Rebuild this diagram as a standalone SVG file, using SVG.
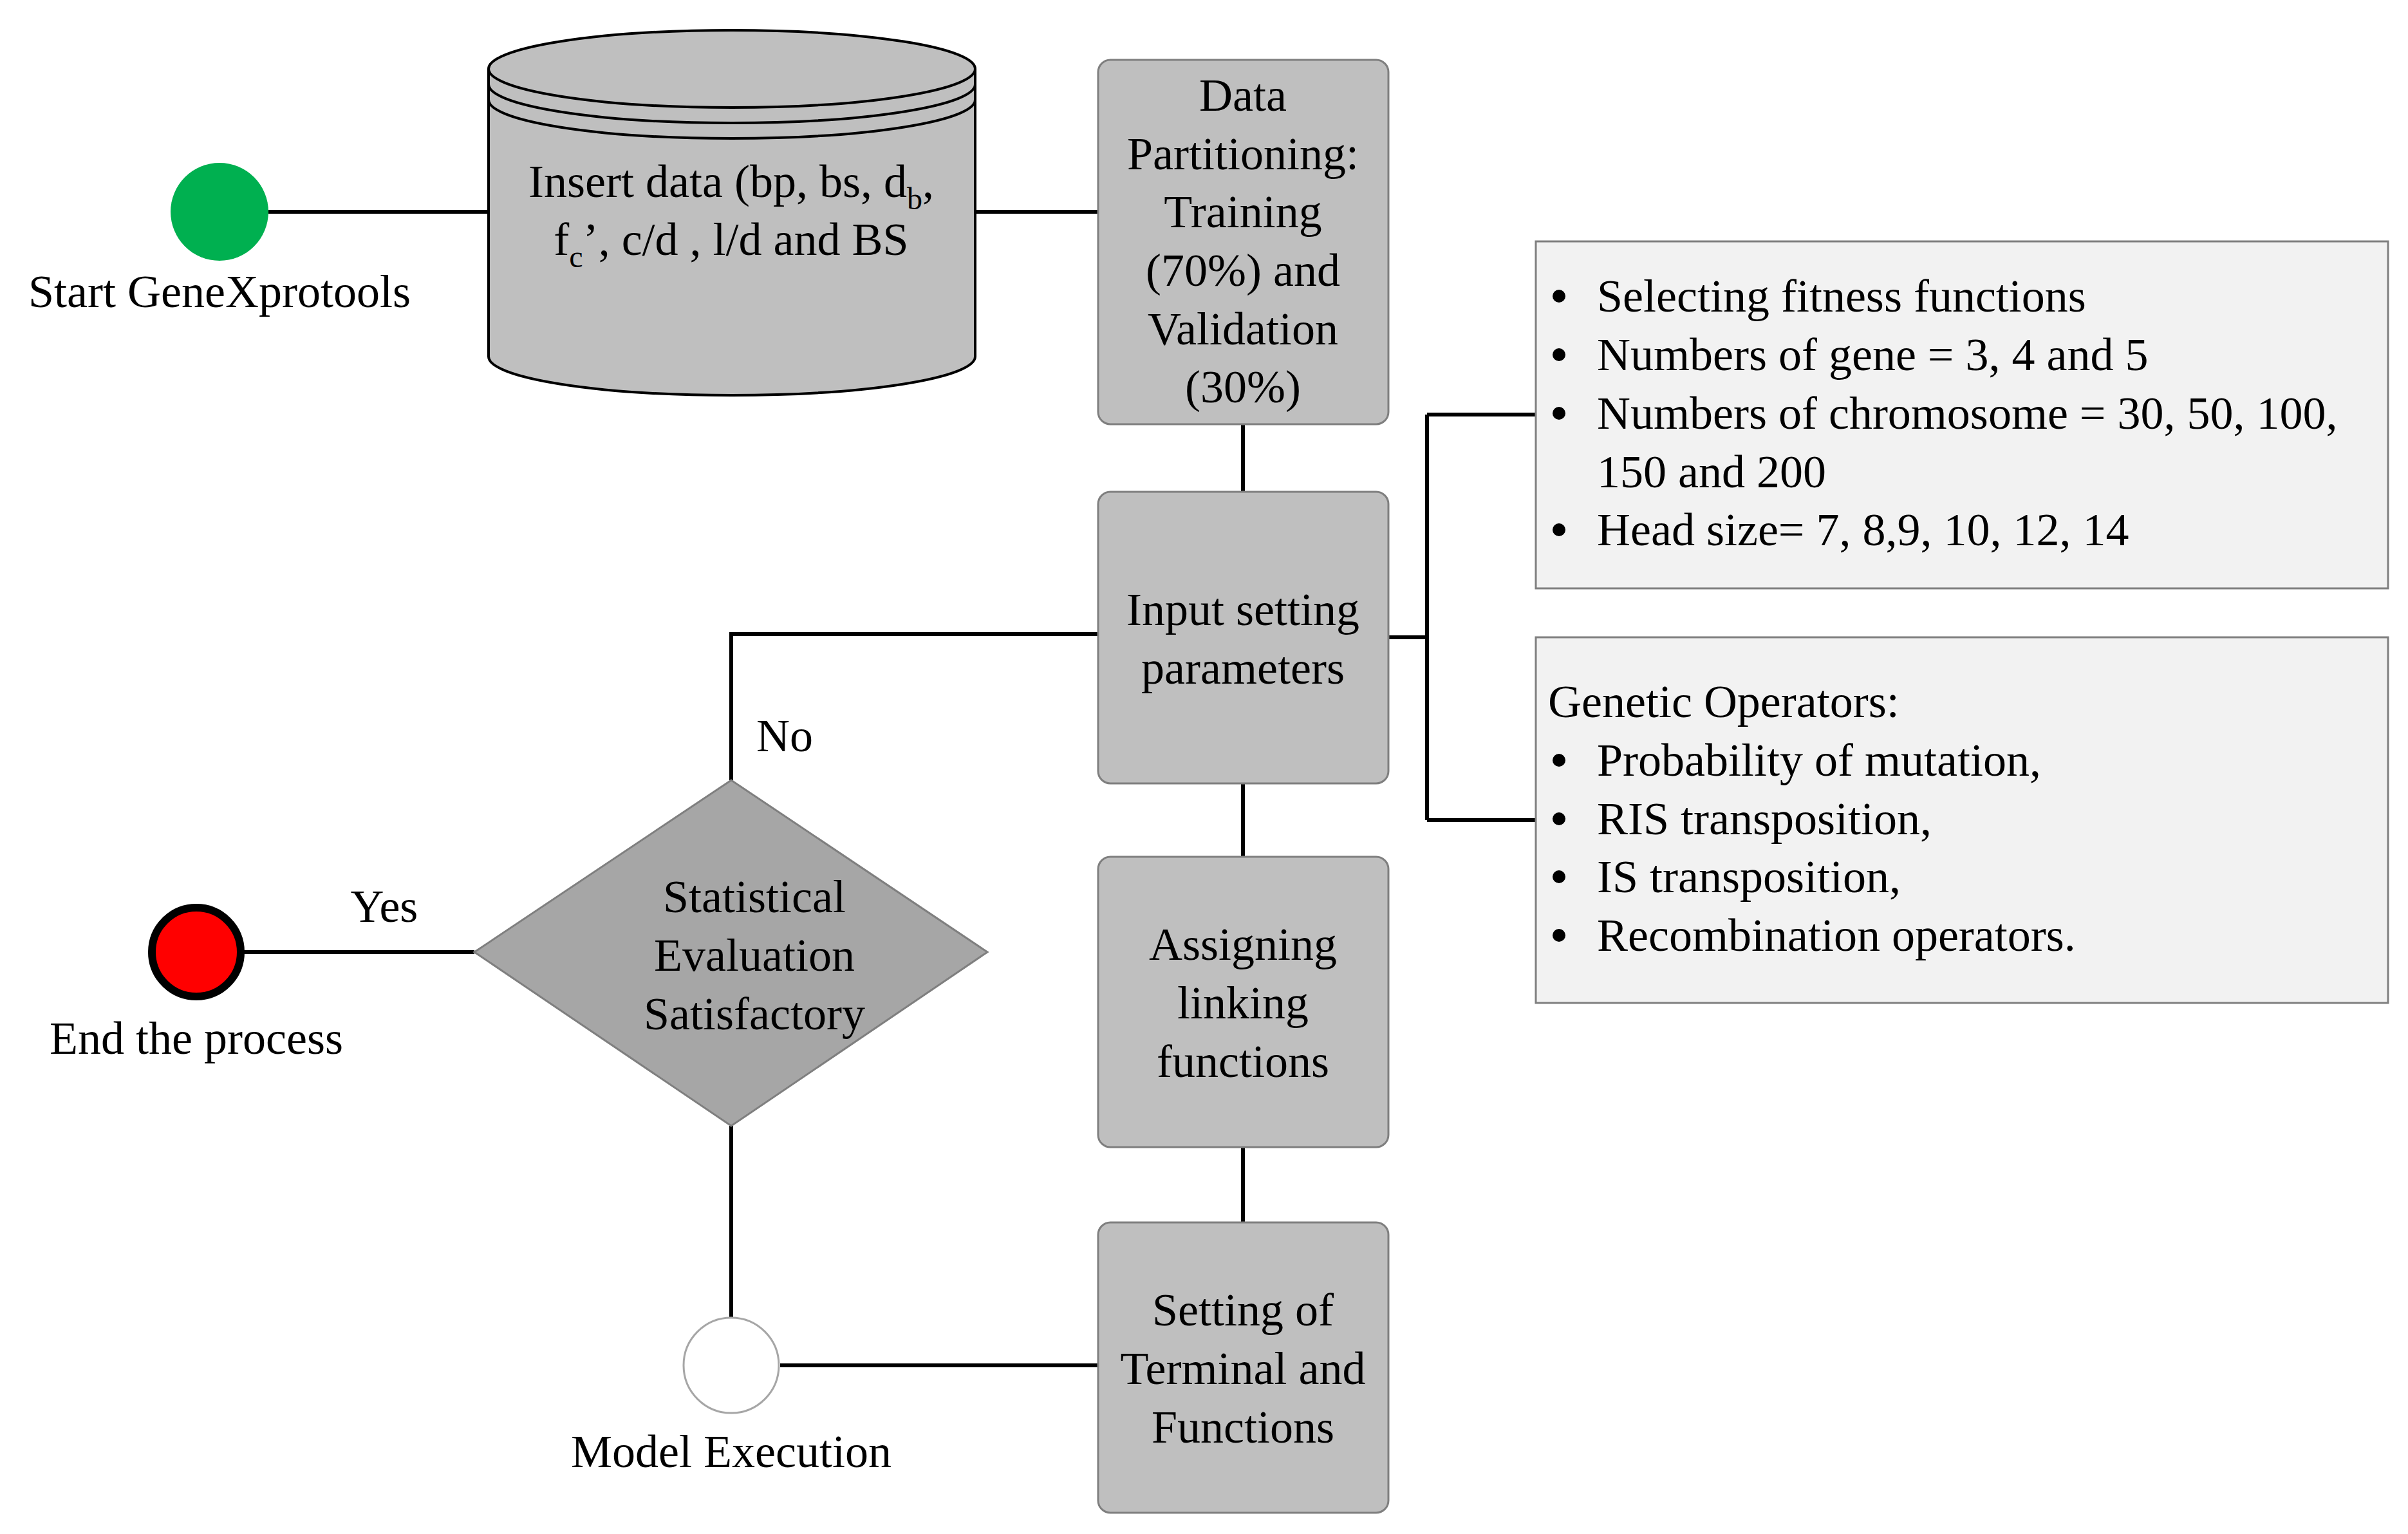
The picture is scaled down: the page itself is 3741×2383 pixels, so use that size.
<svg xmlns="http://www.w3.org/2000/svg" width="3741" height="2383" viewBox="0 0 3741 2383">
<style>
text{font-family:"Liberation Serif","Times New Roman",serif;font-size:72px;fill:#000}
.c{text-anchor:middle;dominant-baseline:central}
.l{dominant-baseline:central}
.box{fill:#bfbfbf;stroke:#7f7f7f;stroke-width:3}
.note{fill:#f2f2f2;stroke:#7f7f7f;stroke-width:3}
.ln{stroke:#000;stroke-width:6;fill:none}
.cyl{fill:#bfbfbf;stroke:#000;stroke-width:4}
</style>
<rect width="3741" height="2383" fill="#fff"/>
<g id="connectors">
<path class="ln" d="M417 329H759M1515 329H1706M1931 659V764M1931 1217V1331M1931 1782V1899M2157 990H2217M2217 644V1274M2217 644H2386M2217 1274H2386M1706 985H1136V1212M379 1479H737M1136 1749V2047M1212 2121H1706"/>
</g>
<g id="start">
<circle cx="341" cy="329" r="76" fill="#00b050"/>
<text class="c" x="341" y="453">Start GeneXprotools</text>
</g>
<g id="data">
<path class="cyl" d="M759 107V554A378 60 0 0 0 1515 554V107"/>
<ellipse class="cyl" cx="1137" cy="107" rx="378" ry="60"/>
<path class="ln" style="stroke-width:4" d="M759 131A378 60 0 0 0 1515 131M759 155A378 60 0 0 0 1515 155"/>
<text class="c" x="1136" y="282">Insert data (bp, bs, d<tspan font-size="48" baseline-shift="sub">b</tspan>,</text>
<text class="c" x="1136" y="372">f<tspan font-size="48" baseline-shift="sub">c</tspan>’, c/d , l/d and BS</text>
</g>
<g id="partition">
<rect class="box" x="1706" y="93" width="451" height="566" rx="19"/>
<text class="c" x="1931" y="148">Data</text>
<text class="c" x="1931" y="239">Partitioning:</text>
<text class="c" x="1931" y="329">Training</text>
<text class="c" x="1931" y="420">(70%) and</text>
<text class="c" x="1931" y="511">Validation</text>
<text class="c" x="1931" y="601">(30%)</text>
</g>
<g id="input">
<rect class="box" x="1706" y="764" width="451" height="453" rx="19"/>
<text class="c" x="1931" y="947">Input setting</text>
<text class="c" x="1931" y="1038">parameters</text>
</g>
<g id="assign">
<rect class="box" x="1706" y="1331" width="451" height="451" rx="19"/>
<text class="c" x="1931" y="1467">Assigning</text>
<text class="c" x="1931" y="1558">linking</text>
<text class="c" x="1931" y="1649">functions</text>
</g>
<g id="terminal">
<rect class="box" x="1706" y="1899" width="451" height="451" rx="19"/>
<text class="c" x="1931" y="2035">Setting of</text>
<text class="c" x="1931" y="2126">Terminal and</text>
<text class="c" x="1931" y="2217">Functions</text>
</g>
<g id="note1">
<rect class="note" x="2386" y="375" width="1324" height="539"/>
<g fill="#000"><circle cx="2422" cy="460" r="10"/><circle cx="2422" cy="551" r="10"/><circle cx="2422" cy="642" r="10"/><circle cx="2422" cy="823" r="10"/></g>
<text class="l" x="2481" y="460">Selecting fitness functions</text>
<text class="l" x="2481" y="551">Numbers of gene = 3, 4 and 5</text>
<text class="l" x="2481" y="642">Numbers of chromosome = 30, 50, 100,</text>
<text class="l" x="2481" y="733">150 and  200</text>
<text class="l" x="2481" y="823">Head size= 7, 8,9, 10, 12, 14</text>
</g>
<g id="note2">
<rect class="note" x="2386" y="990" width="1324" height="568"/>
<g fill="#000"><circle cx="2422" cy="1181" r="10"/><circle cx="2422" cy="1272" r="10"/><circle cx="2422" cy="1362" r="10"/><circle cx="2422" cy="1453" r="10"/></g>
<text class="l" x="2405" y="1090">Genetic Operators:</text>
<text class="l" x="2481" y="1181">Probability of mutation,</text>
<text class="l" x="2481" y="1272">RIS transposition,</text>
<text class="l" x="2481" y="1362">IS transposition,</text>
<text class="l" x="2481" y="1453">Recombination operators.</text>
</g>
<g id="decision">
<polygon points="737,1479 1136,1212 1534,1479 1136,1749" fill="#a6a6a6" stroke="#7f7f7f" stroke-width="3"/>
<text class="c" x="1172" y="1393">Statistical</text>
<text class="c" x="1172" y="1484">Evaluation</text>
<text class="c" x="1172" y="1575">Satisfactory</text>
<text class="c" x="1219" y="1143">No</text>
<text class="c" x="597" y="1408">Yes</text>
</g>
<g id="end">
<circle cx="305" cy="1479" r="69" fill="#ff0000" stroke="#000" stroke-width="12"/>
<text class="c" x="305" y="1613">End the process</text>
</g>
<g id="model">
<circle cx="1136" cy="2121" r="74" fill="#fff" stroke="#a6a6a6" stroke-width="3"/>
<text class="c" x="1136" y="2255">Model Execution</text>
</g>
</svg>
